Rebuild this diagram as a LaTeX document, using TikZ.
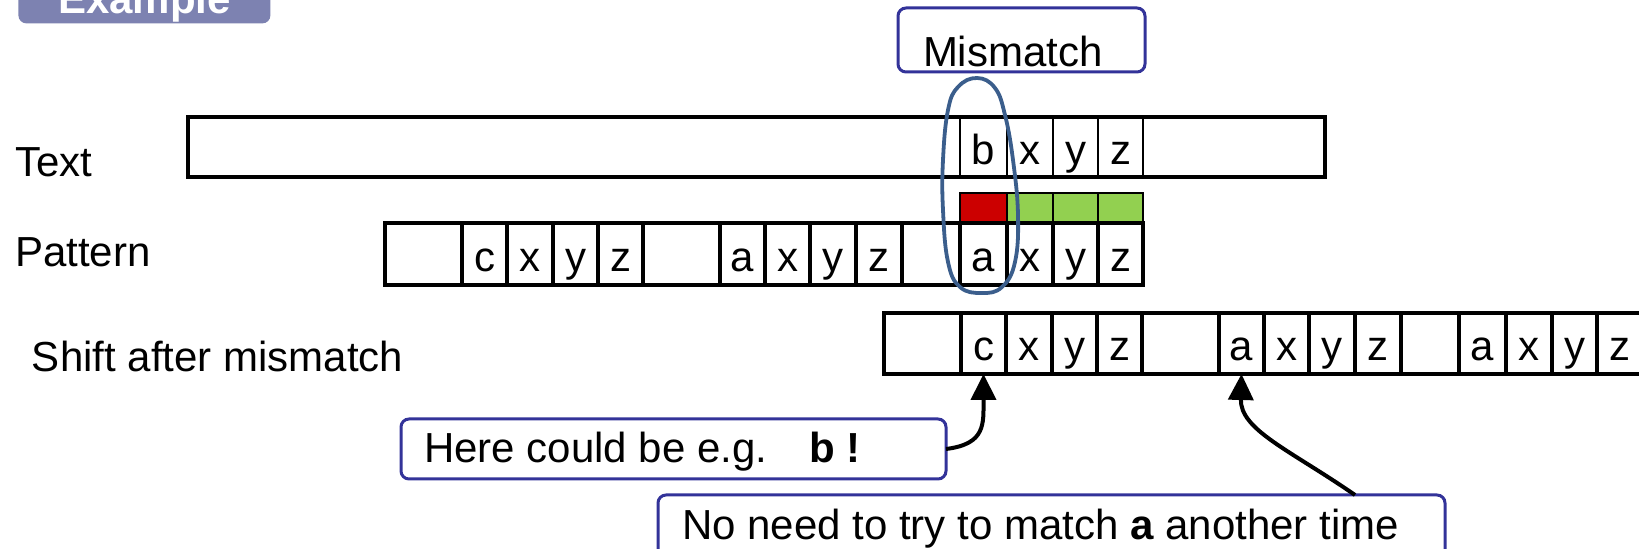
\documentclass[tikz,border=0pt]{standalone}
\usepackage{fontspec}
\setmainfont{Liberation Sans}
\usetikzlibrary{arrows.meta,calc}
\definecolor{boxblue}{HTML}{333399}
\definecolor{loopblue}{HTML}{3B5E8C}
\definecolor{badgecol}{HTML}{7D82B1}
\definecolor{mred}{HTML}{CC0000}
\definecolor{mgreen}{HTML}{92D050}
\begin{document}
\begin{tikzpicture}[x=0.5pt,y=-0.5pt,
  font=\fontsize{21}{25}\selectfont,
  cellbox/.style={draw, line width=1.7pt, anchor=north west, inner sep=0, outer sep=0},
  letter/.style={anchor=base, inner sep=0, outer sep=0},
  lbl/.style={anchor=base west, inner sep=0, outer sep=0},
  callout/.style={draw=boxblue, line width=1.5pt, rounded corners=4pt, fill=white, anchor=north west, inner sep=0, outer sep=0},
  ptr/.style={line width=2pt, -{Triangle[length=13pt,width=12.5pt]}}]
\useasboundingbox (0,0) rectangle (1639,549);

% Example badge
\node[fill=badgecol, rounded corners=4pt, anchor=north west, minimum width=126pt, minimum height=25pt, inner sep=0] (badge) at (18,-27) {};
\node[lbl, text=white, font=\fontsize{21}{25}\selectfont\bfseries] (badgetext) at (58,14) {Example};

% row labels
\node[lbl] (lbltext) at (15,177) {Text};
\node[lbl] (lblpat) at (15,267) {Pattern};
\node[lbl] (lblshift) at (32,372) {Shift after mismatch};

% Text row
\node[draw, line width=2pt, anchor=north west, inner sep=0, outer sep=0, minimum width=568.5pt, minimum height=30pt] (textrow) at (188,117) {};
\foreach \l/\r/\t [count=\i] in {960/1007/b,1007/1053/x,1053/1098/y,1098/1143/z} {
  \node[cellbox, line width=1.3pt, minimum width={(\r-\l)*0.5pt}, minimum height=30pt] (t\i) at (\l,117) {};
  \node[letter] (tl\i) at ([yshift=6pt]t\i.south) {\t};
}

% match bars
\foreach \l/\r/\c [count=\i] in {960/1007/mred,1007/1053/mgreen,1053/1098/mgreen,1098/1143/mgreen} {
  \node[draw, line width=1.1pt, fill=\c, anchor=north west, inner sep=0, outer sep=0, minimum width={(\r-\l)*0.5pt}, minimum height=14.5pt] (m\i) at (\l,193) {};
}

% Pattern row
\foreach \l/\r/\t [count=\i] in {385/462/{},462/507/c,507/553/x,553/598/y,598/643/z,643/720/{},720/765/a,765/810/x,810/856/y,856/902/z,902/960/{},960/1007/a,1007/1053/x,1053/1098/y,1098/1143/z} {
  \node[cellbox, minimum width={(\r-\l)*0.5pt}, minimum height=31pt] (p\i) at (\l,223) {};
  \node[letter] (pl\i) at ([yshift=6.5pt]p\i.south) {\t};
}

% Shifted row
\foreach \l/\r/\t [count=\i] in {385/462/{},462/507/c,507/553/x,553/598/y,598/643/z,643/720/{},720/765/a,765/810/x,810/856/y,856/902/z,902/960/{},960/1007/a,1007/1053/x,1053/1098/y,1098/1143/z} {
  \node[cellbox, minimum width={(\r-\l)*0.5pt}, minimum height=30.5pt] (s\i) at (\l+499,313) {};
  \node[letter] (sl\i) at ([yshift=6.5pt]s\i.south) {\t};
}

% mismatch loop
\draw[loopblue, line width=1.9pt] plot[smooth cycle, tension=0.7] coordinates {(977,78) (995,88) (1005,115) (1013,160) (1018,215) (1015,262) (1002,287) (982,293) (960,287) (948,262) (943,210) (943,160) (948,110) (958,87)};

% Mismatch callout
\node[callout, minimum width=123.5pt, minimum height=32pt] (mmbox) at (898,8) {};
\node[lbl] (mmtext) at (923,67) {Mismatch};

% Here callout
\node[callout, minimum width=272.5pt, minimum height=30pt] (herebox) at (401,419) {};
\node[lbl] (heretext) at (424,463) {Here could be e.g.\hspace{1em}\textbf{b !}};

% No need callout
\node[callout, minimum width=393.5pt, minimum height=40pt] (needbox) at (658,495) {};
\node[lbl] (needtext) at (682,540) {No need to try to match \textbf{a} another time};

% arrows
\draw[ptr] (herebox.east) .. controls +(40,-5) and +(0,50) .. (s2.south);
\draw[ptr] ([xshift=348.5pt]needbox.north west) .. controls (1290,450) and (1240,430) .. (s7.south);
\end{tikzpicture}
\end{document}
